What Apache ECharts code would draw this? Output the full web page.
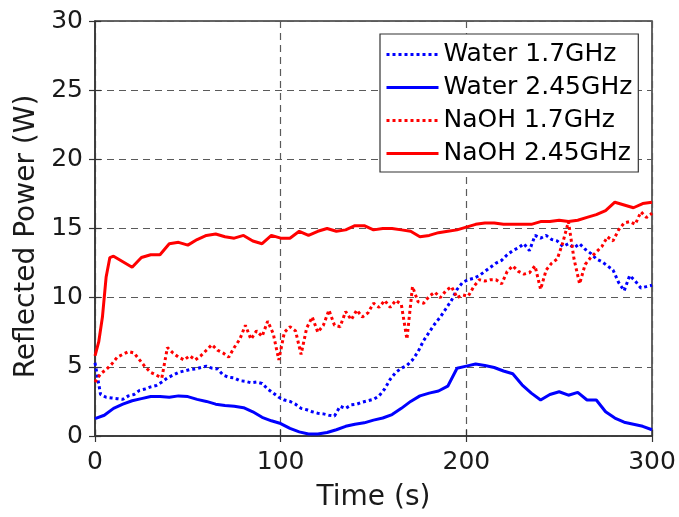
<!DOCTYPE html>
<html>
<head>
<meta charset="utf-8">
<script src="https://cdn.jsdelivr.net/npm/echarts@6/dist/echarts.min.js"></script>
<style>
  html, body { margin: 0; padding: 0; background: #fff; }
  #chart { width: 679px; height: 517px; }
</style>
</head>
<body>
<div id="chart"></div>
<script>
// Sampling times (s) for the 1.7 GHz runs: one reading every 3 s
const timeFine = [];
for (let t = 0; t <= 300; t += 3) timeFine.push(t);

// Sampling times (s) for the 2.45 GHz runs
const timeNaOH245 = [0, 2, 4, 6, 8, 10, 15, 20, 25, 30, 35, 40, 45, 50, 55, 60, 65, 70, 75, 80, 85, 90, 95, 100,
  105, 110, 115, 120, 125, 130, 135, 140, 145, 150, 155, 160, 165, 170, 175, 180, 185, 190, 195, 200,
  205, 210, 215, 220, 225, 230, 235, 240, 245, 250, 255, 260, 265, 270, 275, 280, 285, 290, 295, 300];
const timeWater245 = [0, 5, 10, 15, 20, 25, 30, 35, 40, 45, 50, 55, 60, 65, 70, 75, 80, 85, 90, 95, 100,
  105, 110, 115, 120, 125, 130, 135, 140, 145, 150, 155, 160, 165, 170, 175, 180, 185, 190, 195, 200,
  205, 210, 215, 220, 225, 230, 235, 240, 245, 250, 255, 260, 265, 270, 275, 280, 285, 290, 295, 300];

// Reflected power (W)
const water17 = [5.3, 3.0, 2.8, 2.75, 2.7, 2.65, 2.9, 3.0, 3.3, 3.4, 3.55, 3.65, 3.9, 4.2, 4.4, 4.6, 4.7, 4.8, 4.85, 4.95,
  5.05, 4.9, 4.85, 4.4, 4.25, 4.2, 4.0, 3.95, 3.85, 3.9, 3.8, 3.4, 3.1, 2.8, 2.6, 2.5, 2.3, 2.0, 1.9, 1.75,
  1.65, 1.6, 1.5, 1.45, 2.15, 2.0, 2.25, 2.3, 2.45, 2.55, 2.65, 2.9, 3.4, 4.1, 4.6, 4.9, 5.1, 5.5, 6.1, 6.9,
  7.5, 8.1, 8.6, 9.2, 9.8, 10.6, 11.1, 11.3, 11.4, 11.6, 11.9, 12.2, 12.5, 12.7, 13.1, 13.4, 13.6, 13.9, 13.4, 14.5,
  14.3, 14.5, 14.2, 14.1, 13.7, 13.9, 13.6, 13.9, 13.5, 13.2, 12.8, 12.6, 12.3, 12.0, 11.1, 10.5, 11.6, 11.2, 10.7, 10.8,
  10.9];

const water245 = [1.25, 1.5, 2.0, 2.3, 2.55, 2.7, 2.85, 2.85, 2.8, 2.9, 2.85, 2.65, 2.5, 2.3, 2.2, 2.15, 2.05, 1.75, 1.35, 1.1,
  0.9, 0.55, 0.3, 0.15, 0.15, 0.25, 0.45, 0.7, 0.85, 0.95, 1.15, 1.3, 1.55, 2.0, 2.5, 2.9, 3.1, 3.25, 3.6, 4.9,
  5.05, 5.2, 5.1, 4.95, 4.7, 4.5, 3.7, 3.1, 2.6, 3.0, 3.2, 2.95, 3.15, 2.6, 2.6, 1.75, 1.3, 1.0, 0.85, 0.7,
  0.45];

const naoh17 = [3.9, 4.5, 4.8, 5.2, 5.7, 5.9, 6.1, 6.0, 5.5, 5.0, 4.6, 4.4, 4.2, 6.4, 6.0, 5.7, 5.5, 5.8, 5.5, 5.8,
  6.2, 6.6, 6.2, 6.0, 5.7, 6.4, 7.0, 8.0, 7.0, 7.6, 7.2, 8.3, 7.4, 5.5, 7.5, 7.9, 7.6, 5.9, 7.8, 8.6,
  7.5, 8.0, 9.1, 8.0, 7.9, 9.0, 8.4, 9.1, 8.6, 8.9, 9.6, 9.3, 9.8, 9.3, 9.8, 9.5, 7.0, 10.8, 9.7, 9.6,
  10.1, 10.4, 10.0, 10.5, 10.8, 10.0, 10.2, 10.1, 10.8, 11.3, 11.2, 11.3, 11.3, 11.0, 11.9, 12.3, 11.9, 11.7, 11.8, 12.3,
  10.6, 12.0, 12.5, 12.8, 14.0, 15.5, 12.8, 11.0, 12.4, 12.9, 13.3, 13.7, 14.4, 14.1, 14.9, 15.4, 15.5, 15.3, 16.2, 15.8,
  16.1];

const naoh245 = [5.8, 6.8, 8.6, 11.5, 12.9, 13.0, 12.6, 12.2, 12.9, 13.1, 13.1, 13.9, 14.0, 13.8, 14.2, 14.5, 14.6, 14.4, 14.3, 14.5,
  14.1, 13.9, 14.5, 14.3, 14.3, 14.8, 14.5, 14.8, 15.0, 14.8, 14.9, 15.2, 15.2, 14.9, 15.0, 15.0, 14.9, 14.8, 14.4, 14.5,
  14.7, 14.8, 14.9, 15.1, 15.3, 15.4, 15.4, 15.3, 15.3, 15.3, 15.3, 15.5, 15.5, 15.6, 15.5, 15.6, 15.8, 16.0, 16.3, 16.9,
  16.7, 16.5, 16.8, 16.9];

// Axis ticks
const xTicks = [0, 100, 200, 300];
const yTicks = [0, 5, 10, 15, 20, 25, 30];

const seriesNames = ['Water 1.7GHz', 'Water 2.45GHz', 'NaOH 1.7GHz', 'NaOH 2.45GHz'];

function pairs(times, values) {
  return times.map((t, i) => [t, values[i]]);
}

const FONT = 'DejaVu Sans';
const BLUE = '#0000ff';
const RED = '#ff0000';
const FRAME = '#333333';
const GRIDLINE = { show: true, lineStyle: { color: '#5a5a5a', width: 1.2, type: [7, 5] } };

const dotted = [3, 3];

const chart = echarts.init(document.getElementById('chart'), null, { renderer: 'canvas' });

chart.setOption({
  animation: false,
  backgroundColor: '#ffffff',
  grid: {
    left: 95, right: 27, top: 21, bottom: 80,
    show: true, borderColor: FRAME, borderWidth: 1.5, backgroundColor: 'transparent'
  },
  legend: {
    data: seriesNames,
    orient: 'vertical',
    left: 380, top: 34,
    itemWidth: 52, itemHeight: 14, itemGap: 8,
    padding: [8, 6, 6, 5],
    backgroundColor: '#ffffff',
    borderColor: FRAME, borderWidth: 1.2,
    // legend keys show only the line pattern, no marker
    itemStyle: { opacity: 0 },
    lineStyle: { width: 3 },
    textStyle: { fontFamily: FONT, fontSize: 25, color: '#000', lineHeight: 24 }
  },
  xAxis: [{
    type: 'value', min: xTicks[0], max: xTicks[xTicks.length - 1], interval: 100,
    name: 'Time (s)', nameLocation: 'middle', nameGap: 48,
    nameTextStyle: { fontFamily: FONT, fontSize: 28, color: '#1a1a1a' },
    axisLine: { show: true, lineStyle: { color: FRAME, width: 1.5 } },
    axisTick: { show: true, inside: true, length: 6, lineStyle: { color: FRAME, width: 1.2 } },
    axisLabel: { fontFamily: FONT, fontSize: 25, color: '#1a1a1a', margin: 14 },
    splitLine: GRIDLINE
  }, {
    type: 'value', position: 'top', min: xTicks[0], max: xTicks[xTicks.length - 1], interval: 100,
    axisLine: { show: false },
    axisTick: { show: true, inside: true, length: 6, lineStyle: { color: FRAME, width: 1.2 } },
    axisLabel: { show: false }, splitLine: { show: false }
  }],
  yAxis: [{
    type: 'value', min: yTicks[0], max: yTicks[yTicks.length - 1], interval: 5,
    name: 'Reflected Power (W)', nameLocation: 'middle', nameGap: 50,
    nameTextStyle: { fontFamily: FONT, fontSize: 28, color: '#1a1a1a', padding: [0, 16, 0, 0] },
    axisLine: { show: true, lineStyle: { color: FRAME, width: 1.5 } },
    axisTick: { show: true, inside: true, length: 6, lineStyle: { color: FRAME, width: 1.2 } },
    axisLabel: { fontFamily: FONT, fontSize: 25, color: '#1a1a1a', margin: 12 },
    splitLine: GRIDLINE
  }, {
    type: 'value', position: 'right', min: yTicks[0], max: yTicks[yTicks.length - 1], interval: 5,
    axisLine: { show: false },
    axisTick: { show: true, inside: true, length: 6, lineStyle: { color: FRAME, width: 1.2 } },
    axisLabel: { show: false }, splitLine: { show: false }
  }],
  series: [
    {
      name: seriesNames[0], type: 'line', showSymbol: false, symbol: 'none',
      data: pairs(timeFine, water17),
      lineStyle: { color: BLUE, width: 3, type: dotted }, itemStyle: { color: BLUE }, z: 3
    },
    {
      name: seriesNames[1], type: 'line', showSymbol: false, symbol: 'none',
      data: pairs(timeWater245, water245),
      lineStyle: { color: BLUE, width: 3 }, itemStyle: { color: BLUE }, z: 4
    },
    {
      name: seriesNames[2], type: 'line', showSymbol: false, symbol: 'none',
      data: pairs(timeFine, naoh17),
      lineStyle: { color: RED, width: 3, type: dotted }, itemStyle: { color: RED }, z: 5
    },
    {
      name: seriesNames[3], type: 'line', showSymbol: false, symbol: 'none',
      data: pairs(timeNaOH245, naoh245),
      lineStyle: { color: RED, width: 3 }, itemStyle: { color: RED }, z: 6
    }
  ]
});
</script>
</body>
</html>
